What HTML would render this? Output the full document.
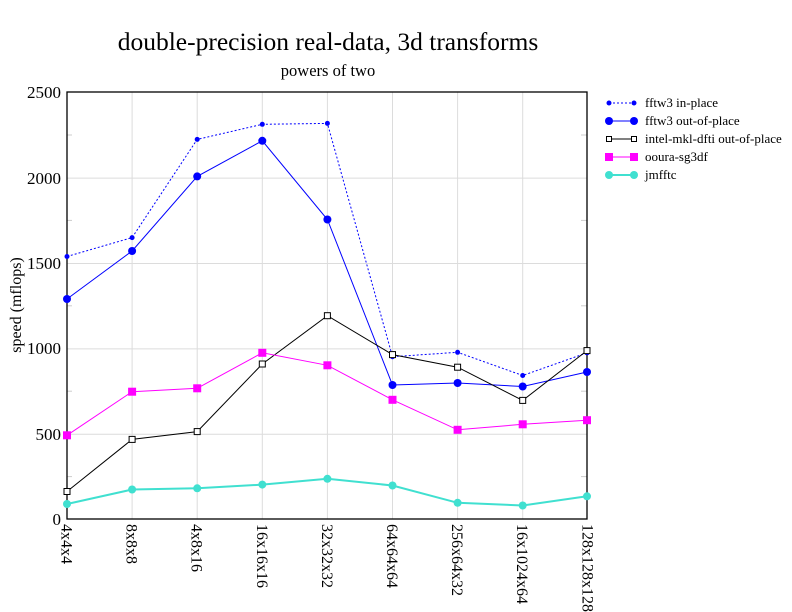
<!DOCTYPE html>
<html><head><meta charset="utf-8"><style>body{margin:0;background:#fff}svg{display:block}text{font-family:"Liberation Serif",serif;fill:#000}</style></head><body>
<svg width="792" height="612" viewBox="0 0 792 612" xmlns="http://www.w3.org/2000/svg">
<g stroke="#dcdcdc" stroke-width="1">
<line x1="67" y1="434.3" x2="587" y2="434.3"/><line x1="67" y1="348.9" x2="587" y2="348.9"/><line x1="67" y1="263.5" x2="587" y2="263.5"/><line x1="67" y1="178.1" x2="587" y2="178.1"/>
<line x1="132.1" y1="92" x2="132.1" y2="519"/><line x1="197.2" y1="92" x2="197.2" y2="519"/><line x1="262.3" y1="92" x2="262.3" y2="519"/><line x1="327.4" y1="92" x2="327.4" y2="519"/><line x1="392.5" y1="92" x2="392.5" y2="519"/><line x1="457.6" y1="92" x2="457.6" y2="519"/><line x1="522.7" y1="92" x2="522.7" y2="519"/>
</g>
<g stroke="#cccccc" stroke-width="1">
<line x1="67" y1="476.6" x2="72" y2="476.6"/><line x1="67" y1="391.2" x2="72" y2="391.2"/><line x1="67" y1="305.8" x2="72" y2="305.8"/><line x1="67" y1="220.4" x2="72" y2="220.4"/><line x1="67" y1="135" x2="72" y2="135"/>
<line x1="581" y1="476.6" x2="587" y2="476.6"/><line x1="581" y1="391.2" x2="587" y2="391.2"/><line x1="581" y1="305.8" x2="587" y2="305.8"/><line x1="581" y1="220.4" x2="587" y2="220.4"/><line x1="581" y1="135" x2="587" y2="135"/>
</g>
<rect x="67" y="92" width="520" height="427" fill="none" stroke="#000" stroke-width="1.3"/>
<text x="328" y="50" font-size="25.5" text-anchor="middle">double-precision real-data, 3d transforms</text>
<text x="328" y="76" font-size="16.5" text-anchor="middle">powers of two</text>
<g font-size="17" text-anchor="end">
<text x="61" y="525">0</text><text x="61" y="440">500</text><text x="61" y="354">1000</text><text x="61" y="269">1500</text><text x="61" y="184">2000</text><text x="61" y="98">2500</text>
</g>
<text transform="translate(21,305) rotate(-90)" font-size="16" text-anchor="middle">speed (mflops)</text>
<g font-size="16">
<text transform="translate(61.5,524) rotate(90)">4x4x4</text>
<text transform="translate(126.6,524) rotate(90)">8x8x8</text>
<text transform="translate(191.7,524) rotate(90)">4x8x16</text>
<text transform="translate(256.8,524) rotate(90)">16x16x16</text>
<text transform="translate(321.9,524) rotate(90)">32x32x32</text>
<text transform="translate(387,524) rotate(90)">64x64x64</text>
<text transform="translate(452.1,524) rotate(90)">256x64x32</text>
<text transform="translate(517.2,524) rotate(90)">16x1024x64</text>
<text transform="translate(582.3,524) rotate(90)">128x128x128</text>
</g>
<polyline fill="none" stroke="#0000ff" stroke-width="1" stroke-dasharray="2,2" points="67,256.5 132.1,237.6 197.2,139.4 262.3,124.3 327.4,123.4 392.5,356.7 457.6,352.3 522.7,375.5 587,352.8"/>
<g fill="#0000ff"><circle cx="67" cy="256.5" r="2.5"/><circle cx="132.1" cy="237.6" r="2.5"/><circle cx="197.2" cy="139.4" r="2.5"/><circle cx="262.3" cy="124.3" r="2.5"/><circle cx="327.4" cy="123.4" r="2.5"/><circle cx="392.5" cy="356.7" r="2.5"/><circle cx="457.6" cy="352.3" r="2.5"/><circle cx="522.7" cy="375.5" r="2.5"/><circle cx="587" cy="352.8" r="2.5"/></g>
<polyline fill="none" stroke="#0000ff" stroke-width="1" points="67,299 132.1,251 197.2,176.4 262.3,140.8 327.4,219.5 392.5,385 457.6,383 522.7,386.5 587,372"/>
<g fill="#0000ff"><circle cx="67" cy="299" r="4"/><circle cx="132.1" cy="251" r="4"/><circle cx="197.2" cy="176.4" r="4"/><circle cx="262.3" cy="140.8" r="4"/><circle cx="327.4" cy="219.5" r="4"/><circle cx="392.5" cy="385" r="4"/><circle cx="457.6" cy="383" r="4"/><circle cx="522.7" cy="386.5" r="4"/><circle cx="587" cy="372" r="4"/></g>
<polyline fill="none" stroke="#000" stroke-width="1" points="67,491.5 132.1,439.4 197.2,431.6 262.3,364 327.4,315.7 392.5,354.6 457.6,367.2 522.7,400.4 587,350.6"/>
<g fill="#fff" stroke="#000" stroke-width="1"><rect x="64" y="488.5" width="6" height="6"/><rect x="129.1" y="436.4" width="6" height="6"/><rect x="194.2" y="428.6" width="6" height="6"/><rect x="259.3" y="361" width="6" height="6"/><rect x="324.4" y="312.7" width="6" height="6"/><rect x="389.5" y="351.6" width="6" height="6"/><rect x="454.6" y="364.2" width="6" height="6"/><rect x="519.7" y="397.4" width="6" height="6"/><rect x="584" y="347.6" width="6" height="6"/></g>
<polyline fill="none" stroke="#ff00ff" stroke-width="1" points="67,435.3 132.1,391.7 197.2,388.3 262.3,352.8 327.4,365.3 392.5,399.8 457.6,429.8 522.7,424.3 587,420.2"/>
<g fill="#ff00ff"><rect x="63" y="431.3" width="8" height="8"/><rect x="128.1" y="387.7" width="8" height="8"/><rect x="193.2" y="384.3" width="8" height="8"/><rect x="258.3" y="348.8" width="8" height="8"/><rect x="323.4" y="361.3" width="8" height="8"/><rect x="388.5" y="395.8" width="8" height="8"/><rect x="453.6" y="425.8" width="8" height="8"/><rect x="518.7" y="420.3" width="8" height="8"/><rect x="583" y="416.2" width="8" height="8"/></g>
<polyline fill="none" stroke="#40e0d0" stroke-width="2" points="67,504 132.1,489.5 197.2,488.3 262.3,484.6 327.4,478.8 392.5,485.5 457.6,502.8 522.7,505.5 587,496.3"/>
<g fill="#40e0d0"><circle cx="67" cy="504" r="4"/><circle cx="132.1" cy="489.5" r="4"/><circle cx="197.2" cy="488.3" r="4"/><circle cx="262.3" cy="484.6" r="4"/><circle cx="327.4" cy="478.8" r="4"/><circle cx="392.5" cy="485.5" r="4"/><circle cx="457.6" cy="502.8" r="4"/><circle cx="522.7" cy="505.5" r="4"/><circle cx="587" cy="496.3" r="4"/></g>
<g font-size="13">
<line x1="609" y1="103" x2="634" y2="103" stroke="#0000ff" stroke-dasharray="2,2"/><circle cx="609" cy="103" r="2.5" fill="#0000ff"/><circle cx="634" cy="103" r="2.5" fill="#0000ff"/><text x="645" y="107">fftw3 in-place</text>
<line x1="609" y1="121" x2="634" y2="121" stroke="#0000ff"/><circle cx="609" cy="121" r="4" fill="#0000ff"/><circle cx="634" cy="121" r="4" fill="#0000ff"/><text x="645" y="125">fftw3 out-of-place</text>
<line x1="609" y1="139" x2="634" y2="139" stroke="#000"/><rect x="606.5" y="136.5" width="5" height="5" fill="#fff" stroke="#000"/><rect x="631.5" y="136.5" width="5" height="5" fill="#fff" stroke="#000"/><text x="645" y="143">intel-mkl-dfti out-of-place</text>
<line x1="609" y1="157" x2="634" y2="157" stroke="#ff00ff"/><rect x="605" y="153" width="8" height="8" fill="#ff00ff"/><rect x="630" y="153" width="8" height="8" fill="#ff00ff"/><text x="645" y="161">ooura-sg3df</text>
<line x1="609" y1="175" x2="634" y2="175" stroke="#40e0d0" stroke-width="2"/><circle cx="609" cy="175" r="4" fill="#40e0d0"/><circle cx="634" cy="175" r="4" fill="#40e0d0"/><text x="645" y="179">jmfftc</text>
</g>
</svg>
</body></html>
